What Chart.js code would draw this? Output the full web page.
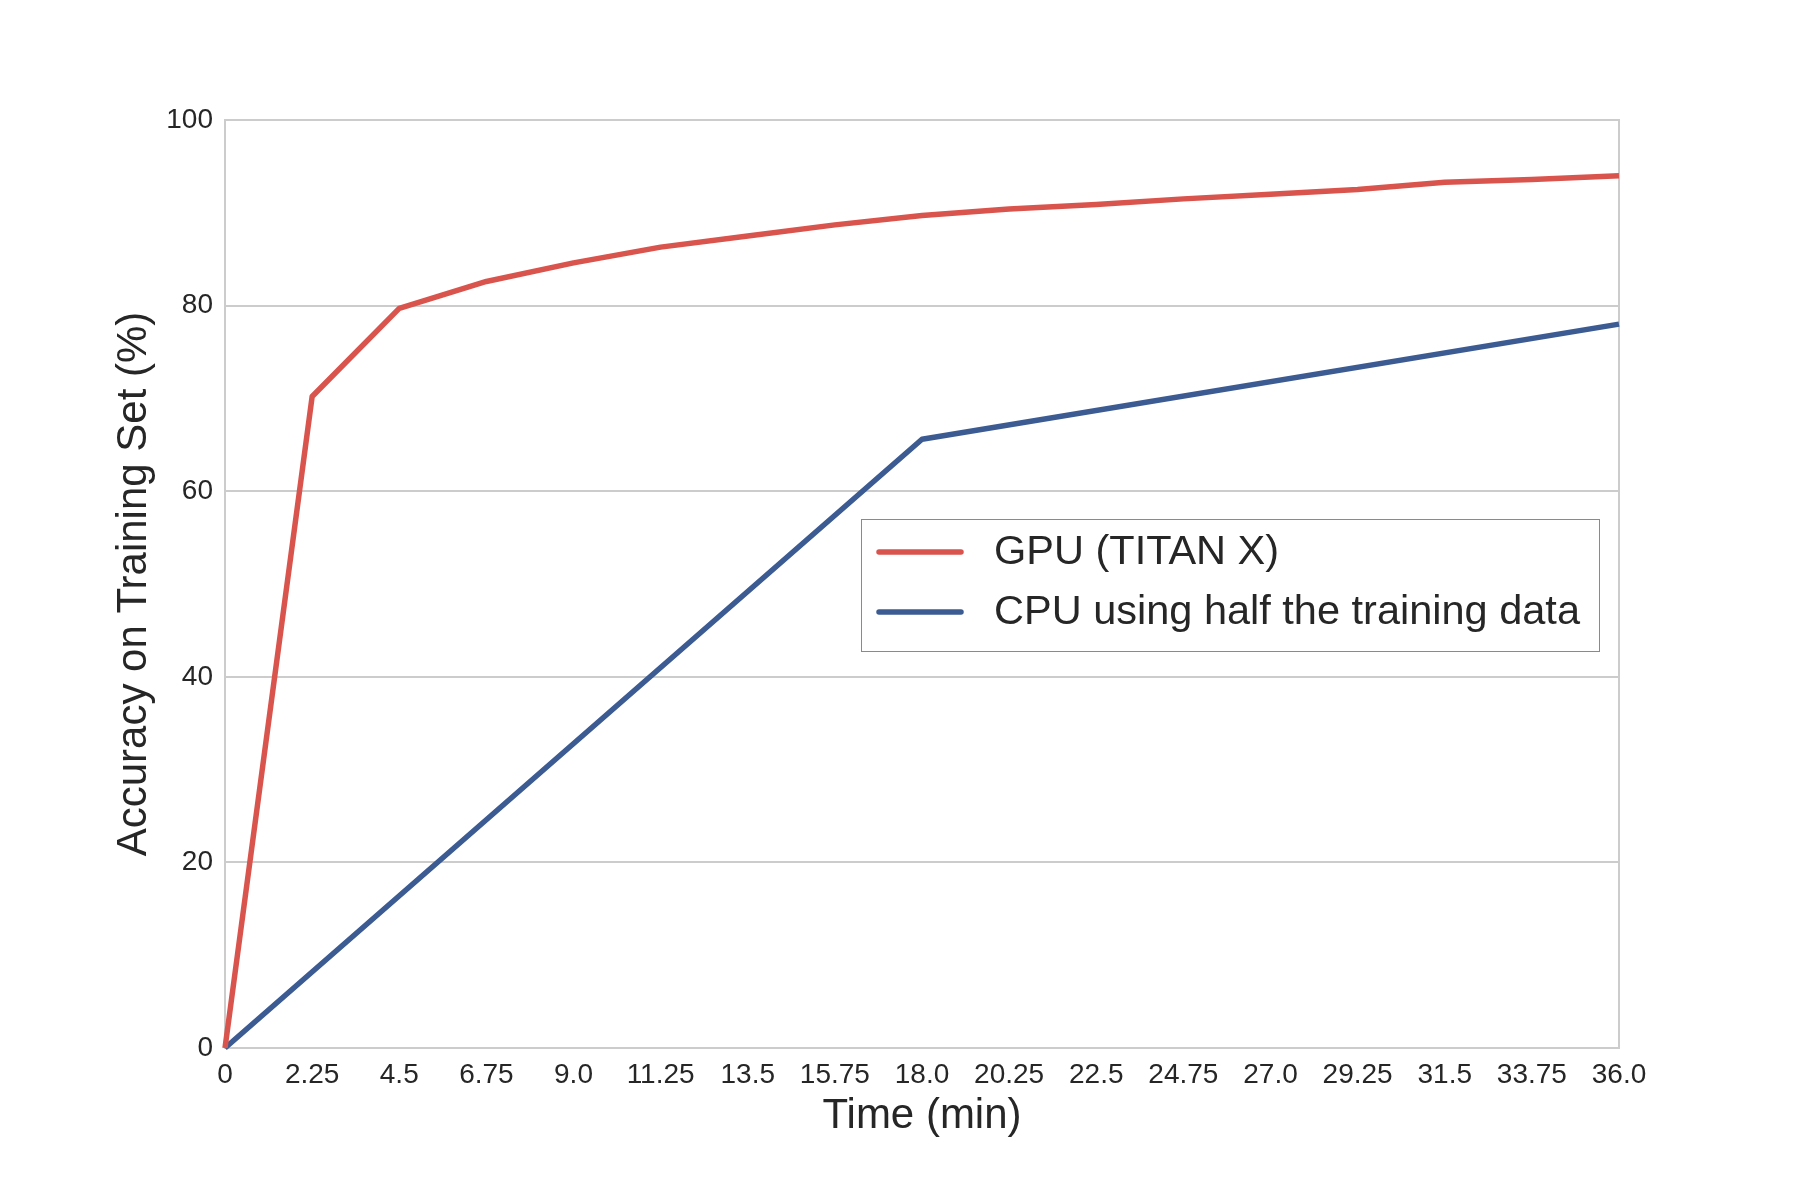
<!DOCTYPE html>
<html>
<head>
<meta charset="utf-8">
<script src="https://cdn.jsdelivr.net/npm/chart.js@4/dist/chart.umd.min.js"></script>
<style>
html,body{margin:0;padding:0;background:#fff;}
#wrap{width:1800px;height:1200px;}
</style>
</head>
<body>
<div id="wrap"><canvas id="c" width="1800" height="1200"></canvas></div>
<script>
const gpuTimes = [0, 2.25, 4.5, 6.75, 9.0, 11.25, 13.5, 15.75, 18.0, 20.25, 22.5, 24.75, 27.0, 29.25, 31.5, 33.75, 36.0];
const gpuAccuracy = [0, 70.2, 79.7, 82.6, 84.6, 86.3, 87.5, 88.7, 89.7, 90.4, 90.9, 91.5, 92.0, 92.5, 93.3, 93.6, 94.0];
const cpuTimes = [0, 18.0, 36.0];
const cpuAccuracy = [0, 65.6, 78.0];
const xTickValues = [0, 2.25, 4.5, 6.75, 9.0, 11.25, 13.5, 15.75, 18.0, 20.25, 22.5, 24.75, 27.0, 29.25, 31.5, 33.75, 36.0];
const xTickLabels = ["0", "2.25", "4.5", "6.75", "9.0", "11.25", "13.5", "15.75", "18.0", "20.25", "22.5", "24.75", "27.0", "29.25", "31.5", "33.75", "36.0"];
const seriesNames = ["GPU (TITAN X)", "CPU using half the training data"];
const xTitle = "Time (min)";
const yTitle = "Accuracy on Training Set (%)";

const FONT = "'Liberation Sans', Arial, sans-serif";
const TEXT = "#262626";
const RED = "#d9544d";
const BLUE = "#3b5b92";

const borderPlugin = {
  id: 'frame',
  beforeDatasetsDraw(chart) {
    const {ctx, chartArea: a} = chart;
    ctx.save();
    ctx.strokeStyle = '#cccccc';
    ctx.lineWidth = 2;
    ctx.strokeRect(a.left, a.top, a.right - a.left, a.bottom - a.top);
    ctx.restore();
  }
};

const legendPlugin = {
  id: 'boxLegend',
  afterDraw(chart) {
    const {ctx, chartArea: a} = chart;
    const bx = 861, by = 519, bw = a.right - 20 - 861, bh = 132;
    ctx.save();
    ctx.fillStyle = '#ffffff';
    ctx.fillRect(bx, by, bw, bh);
    ctx.strokeStyle = '#8a8a8a';
    ctx.lineWidth = 1;
    ctx.strokeRect(bx + 0.5, by + 0.5, bw, bh);
    ctx.font = "41.5px " + FONT;
    ctx.textBaseline = 'middle';
    chart.data.datasets.forEach((ds, i) => {
      const y = by + 33 + i * 60;
      ctx.strokeStyle = ds.borderColor;
      ctx.lineWidth = 5.5;
      ctx.lineCap = 'round';
      ctx.beginPath();
      ctx.moveTo(bx + 18, y);
      ctx.lineTo(bx + 100, y);
      ctx.stroke();
      ctx.fillStyle = TEXT;
      ctx.fillText(ds.label, bx + 133, y + 1);
    });
    ctx.restore();
  }
};

new Chart(document.getElementById('c'), {
  type: 'line',
  data: {
    datasets: [
      {
        label: seriesNames[0],
        data: gpuTimes.map((t, i) => ({x: t, y: gpuAccuracy[i]})),
        borderColor: RED, backgroundColor: RED,
        borderWidth: 5.5, pointRadius: 0, tension: 0, fill: false,
        borderJoinStyle: 'round', clip: false
      },
      {
        label: seriesNames[1],
        data: cpuTimes.map((t, i) => ({x: t, y: cpuAccuracy[i]})),
        borderColor: BLUE, backgroundColor: BLUE,
        borderWidth: 5.5, pointRadius: 0, tension: 0, fill: false,
        borderJoinStyle: 'round', clip: false
      }
    ]
  },
  options: {
    responsive: false,
    animation: false,
    events: [],
    layout: {padding: {left: 0, right: 181, top: 120, bottom: 0}},
    plugins: {legend: {display: false}, tooltip: {enabled: false}},
    scales: {
      x: {
        type: 'linear', min: 0, max: 36,
        afterBuildTicks(scale) { scale.ticks = xTickValues.map(v => ({value: v})); },
        afterFit(scale) { scale.height = 152; },
        ticks: {
          autoSkip: false, maxRotation: 0, padding: 10, color: TEXT,
          font: {family: FONT, size: 28},
          callback(value, index) { return xTickLabels[index]; }
        },
        grid: {display: false, drawTicks: false},
        border: {display: false},
        title: {display: true, text: xTitle, color: TEXT, font: {family: FONT, size: 42}, padding: {top: 0, bottom: 58}}
      },
      y: {
        type: 'linear', min: 0, max: 100,
        afterFit(scale) { scale.width = 225; },
        ticks: {stepSize: 20, padding: 12, color: TEXT, font: {family: FONT, size: 28}},
        grid: {color: '#cccccc', lineWidth: 2, drawTicks: false},
        border: {display: false},
        title: {display: true, text: yTitle, color: TEXT, font: {family: FONT, size: 42}, padding: {top: 109, bottom: 0}}
      }
    }
  },
  plugins: [borderPlugin, legendPlugin]
});
</script>
</body>
</html>
